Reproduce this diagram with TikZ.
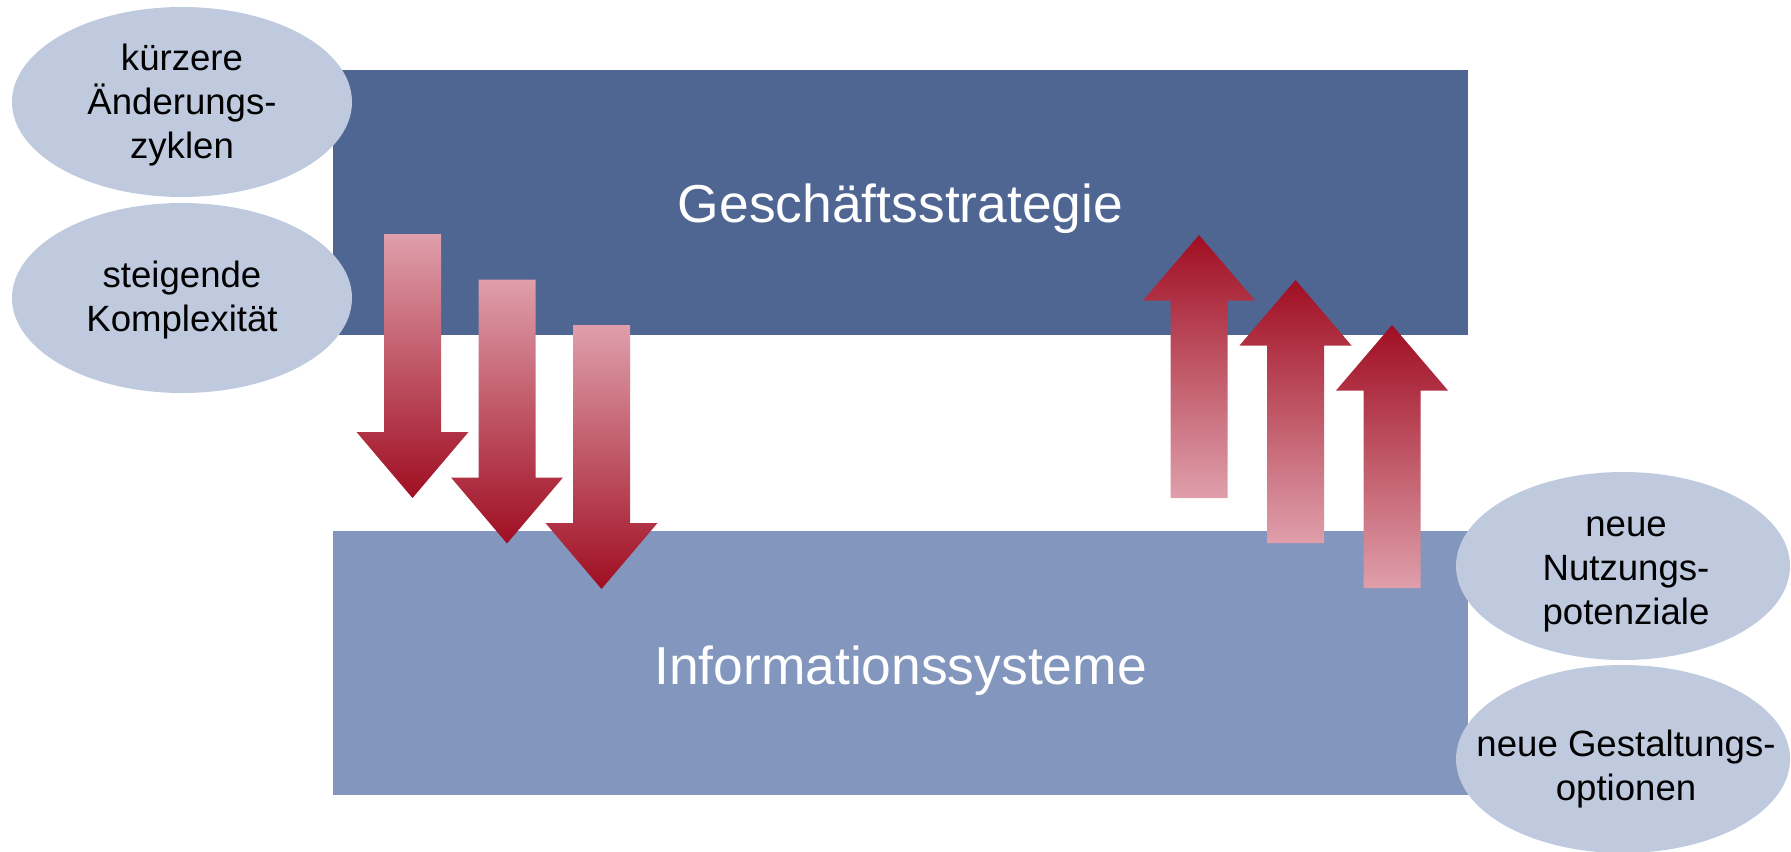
\documentclass[tikz,border=0pt]{standalone}
\usepackage{fontspec}
\setmainfont{Liberation Sans}
\usetikzlibrary{shapes.geometric}
\definecolor{topblue}{HTML}{4F6592}
\definecolor{botblue}{HTML}{8396BD}
\definecolor{ellblue}{HTML}{BFCADF}
\definecolor{arrdark}{HTML}{A00E22}
\definecolor{arrlight}{HTML}{DF9FAB}
\begin{document}
\begin{tikzpicture}[x=0.5pt,y=-0.5pt,
  layerbox/.style={draw=none, minimum width=567.5pt, minimum height=132.5pt, inner sep=0pt, text=white, font=\fontsize{26.7}{32}\selectfont},
  bubble/.style={ellipse, fill=ellblue, minimum width=170pt, minimum height=95pt, inner sep=0pt},
  bubbleR/.style={bubble, minimum width=167pt, minimum height=94pt},
  bubbletext/.style={inner sep=0pt, align=center, font=\fontsize{18.3}{22}\selectfont},
  downarrow/.style={top color=arrlight, bottom color=arrdark},
  uparrow/.style={top color=arrdark, bottom color=arrlight}]
\useasboundingbox (0,0) rectangle (1791,851);
\clip (0,0) rectangle (1791,851);
\node[layerbox, fill=topblue] (gs) at (900.5,202.5) {\raisebox{-9.75pt}[0pt][0pt]{Geschäftsstrategie}};
\node[layerbox, fill=botblue, minimum height=132pt] (is) at (900.5,663) {\raisebox{-10.5pt}[0pt][0pt]{Informationssysteme}};
\node[bubble] (e1) at (182,102) {};
\node[bubble] (e2) at (182,298) {};
\node[bubbleR] (e3) at (1623,566) {};
\node[bubbleR] (e4) at (1623,759) {};
\node[bubbletext] (t1) at ([yshift=-1.5pt]e1.center) {kürzere\\Änderungs-\\zyklen};
\node[bubbletext] (t2) at ([yshift=-1pt]e2.center) {steigende\\Komplexität};
\node[bubbletext] (t3) at ([xshift=1.5pt,yshift=-4pt]e3.center) {neue\\Nutzungs-\\potenziale};
\node[bubbletext] (t4) at ([xshift=1.5pt,yshift=-5pt]e4.center) {neue Gestaltungs-\\optionen};
\foreach \i [evaluate=\i as \cx using 412.5+94.5*\i, evaluate=\i as \ty using 234+45.5*\i] in {0,1,2} {
  \shade[downarrow] (\cx-28.5,\ty) -- (\cx+28.5,\ty) -- (\cx+28.5,\ty+198) -- (\cx+56,\ty+198)
    -- (\cx,\ty+264) -- (\cx-56,\ty+198) -- (\cx-28.5,\ty+198) -- cycle;
}
\foreach \i [evaluate=\i as \cx using 1199+96.5*\i, evaluate=\i as \ty using 235+45*\i] in {0,1,2} {
  \shade[uparrow] (\cx,\ty) -- (\cx+56,\ty+65.5) -- (\cx+28.5,\ty+65.5) -- (\cx+28.5,\ty+263)
    -- (\cx-28.5,\ty+263) -- (\cx-28.5,\ty+65.5) -- (\cx-56,\ty+65.5) -- cycle;
}
\end{tikzpicture}
\end{document}
